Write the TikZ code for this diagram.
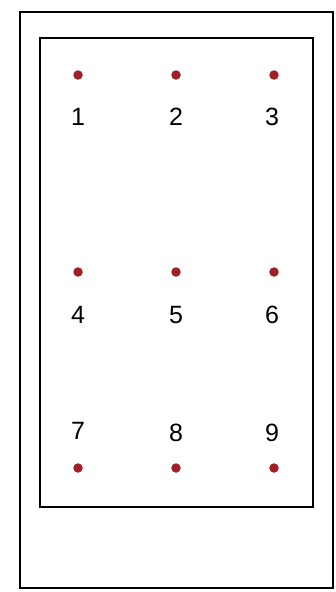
\documentclass[tikz,border=0pt]{standalone}
\usepackage{fontspec}
\setmainfont{Liberation Sans}
\definecolor{dotred}{RGB}{160,32,40}
\begin{document}
\begin{tikzpicture}[x=1pt,y=-1pt,
  frame/.style={draw=black,line width=1.3pt},
  pin/.style={circle,fill=dotred,inner sep=0pt,minimum size=9.5pt},
  lbl/.style={font=\fontsize{25}{25}\selectfont,inner sep=0pt}]
\useasboundingbox (0,0) rectangle (335,592);
\draw[frame] (20,12) rectangle (333,588);
\draw[frame] (40,38) rectangle (313,507);
\foreach \i/\x/\y in {1/78/75,2/176/75,3/274/75,4/78/272,5/176/272,6/274/272,7/78/468,8/176/468,9/274/468}{
  \node[pin] (p\i) at (\x,\y) {};
}
\foreach \i/\x/\y in {1/78/117,2/176/117,3/272/117,4/78/315,5/176/315,6/272/315,7/78/431,8/176/433,9/272/433}{
  \node[lbl] (l\i) at (\x,\y) {\i};
}
\end{tikzpicture}
\end{document}
